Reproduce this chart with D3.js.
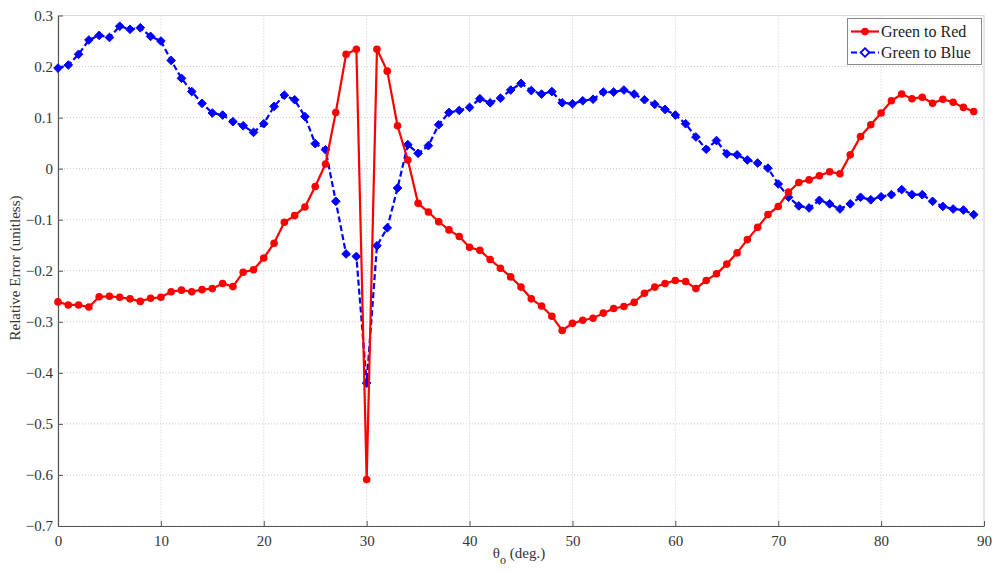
<!DOCTYPE html>
<html><head><meta charset="utf-8">
<script src="https://cdn.jsdelivr.net/npm/d3@7"></script>
<style>body{margin:0;background:#fff}svg{display:block}text{font-family:"Liberation Serif","Times New Roman",serif}</style>
</head><body>
<svg id="chart" width="996" height="573"></svg>
<script>
const angles = d3.range(0, 90);
const greenToRed = [-0.261,-0.267,-0.267,-0.271,-0.251,-0.250,-0.252,-0.255,-0.260,-0.254,
 -0.252,-0.241,-0.238,-0.241,-0.237,-0.235,-0.225,-0.231,-0.203,-0.198,
 -0.175,-0.146,-0.105,-0.092,-0.075,-0.035,0.009,0.110,0.224,0.234,
 -0.609,0.234,0.191,0.084,0.017,-0.068,-0.085,-0.104,-0.120,-0.133,
 -0.154,-0.160,-0.178,-0.195,-0.212,-0.232,-0.255,-0.269,-0.289,-0.317,
 -0.303,-0.297,-0.293,-0.283,-0.274,-0.270,-0.262,-0.244,-0.232,-0.225,
 -0.219,-0.221,-0.235,-0.219,-0.206,-0.187,-0.165,-0.139,-0.115,-0.090,
 -0.074,-0.046,-0.027,-0.022,-0.014,-0.006,-0.010,0.027,0.063,0.086,
 0.109,0.133,0.146,0.137,0.140,0.128,0.136,0.130,0.120,0.112];
const greenToBlue = [0.197,0.203,0.224,0.252,0.261,0.257,0.279,0.273,0.276,0.259,
 0.250,0.212,0.177,0.151,0.128,0.109,0.105,0.092,0.084,0.071,
 0.088,0.122,0.144,0.135,0.102,0.049,0.037,-0.064,-0.167,-0.172,
 -0.420,-0.151,-0.116,-0.038,0.047,0.030,0.045,0.086,0.110,0.114,
 0.120,0.137,0.129,0.138,0.154,0.167,0.153,0.146,0.151,0.129,
 0.127,0.133,0.136,0.150,0.150,0.154,0.146,0.135,0.126,0.116,
 0.105,0.088,0.062,0.038,0.055,0.029,0.027,0.017,0.011,0.001,
 -0.030,-0.056,-0.073,-0.077,-0.062,-0.069,-0.079,-0.069,-0.056,-0.061,
 -0.055,-0.051,-0.041,-0.051,-0.051,-0.064,-0.074,-0.079,-0.081,-0.090];
const xTicks = [0,10,20,30,40,50,60,70,80,90];
const yTicks = [0.3,0.2,0.1,0,-0.1,-0.2,-0.3,-0.4,-0.5,-0.6,-0.7];
const seriesNames = ["Green to Red","Green to Blue"];
const seriesColors = ["#ff0000","#0000ff"];

const svg = d3.select("#chart");
const L=58, R=984, T=15.5, B=526;
const x = d3.scaleLinear().domain([0,90]).range([L,R]);
const y = d3.scaleLinear().domain([-0.7,0.3]).range([B,T]);

// grid
const g = svg.append("g");
g.selectAll(".vg").data(xTicks).join("line")
  .attr("x1",d=>x(d)).attr("x2",d=>x(d)).attr("y1",T).attr("y2",B)
  .attr("stroke","#c8c8c8").attr("stroke-width",1).attr("stroke-dasharray","1,2");
g.selectAll(".hg").data(yTicks).join("line")
  .attr("x1",L).attr("x2",R).attr("y1",d=>y(d)).attr("y2",d=>y(d))
  .attr("stroke","#c8c8c8").attr("stroke-width",1).attr("stroke-dasharray","1,2");

// box top/right
svg.append("line").attr("x1",L).attr("x2",R).attr("y1",T).attr("y2",T).attr("stroke","#d8d8d8");
svg.append("line").attr("x1",R).attr("x2",R).attr("y1",T).attr("y2",B).attr("stroke","#d8d8d8");

// axes
const xAxis = d3.axisBottom(x).tickValues(xTicks).tickSizeInner(-5).tickSizeOuter(0).tickPadding(9);
const yAxis = d3.axisLeft(y).tickValues(yTicks).tickSizeInner(-5).tickSizeOuter(0).tickPadding(5)
  .tickFormat(d=> d===0 ? "0" : d3.format(".1f")(d));
const gx = svg.append("g").attr("transform",`translate(0,${B})`).call(xAxis);
const gy = svg.append("g").attr("transform",`translate(${L},0)`).call(yAxis);
[gx,gy].forEach(a=>{
  a.attr("font-family","Liberation Serif");
  a.select(".domain").attr("stroke","#555").attr("stroke-width",1.2);
  a.selectAll(".tick line").attr("stroke","#555");
  a.selectAll(".tick text").attr("font-size",15).attr("fill","#333").attr("font-family","Liberation Serif");
});

// titles
svg.append("text").attr("transform","translate(20,268) rotate(-90)").attr("text-anchor","middle")
  .attr("font-size",15).attr("fill","#333").text("Relative Error (unitless)");
const xt = svg.append("text").attr("x",519).attr("y",558).attr("text-anchor","middle")
  .attr("font-size",15).attr("fill","#333");
xt.append("tspan").text("θ");
xt.append("tspan").attr("dy",6).attr("font-size",12).text("o");
xt.append("tspan").attr("dy",-6).text(" (deg.)");

// lines
const line = d3.line().x((d,i)=>x(angles[i])).y(d=>y(d));
svg.append("path").datum(greenToBlue).attr("d",line).attr("fill","none")
  .attr("stroke",seriesColors[1]).attr("stroke-width",2.2).attr("stroke-dasharray","6,3");
svg.append("g").selectAll("path").data(greenToBlue).join("path")
  .attr("d",d3.symbol(d3.symbolDiamond2,48)())
  .attr("transform",(d,i)=>`translate(${x(angles[i])},${y(d)})`)
  .attr("fill",seriesColors[1]).attr("stroke",seriesColors[1]).attr("stroke-width",1);
svg.append("path").datum(greenToRed).attr("d",line).attr("fill","none")
  .attr("stroke",seriesColors[0]).attr("stroke-width",2.2);
svg.append("g").selectAll("circle").data(greenToRed).join("circle")
  .attr("cx",(d,i)=>x(angles[i])).attr("cy",d=>y(d)).attr("r",3.8)
  .attr("fill",seriesColors[0]);

// legend
const lg = svg.append("g");
lg.append("rect").attr("x",847.5).attr("y",18.5).attr("width",134).attr("height",46)
  .attr("fill","#fff").attr("stroke","#888").attr("stroke-width",1);
seriesNames.forEach((n,i)=>{
  const yy = 31.5 + i*21;
  lg.append("line").attr("x1",851).attr("x2",879).attr("y1",yy).attr("y2",yy)
    .attr("stroke",seriesColors[i]).attr("stroke-width",2.2)
    .attr("stroke-dasharray", i===1 ? "6,3" : null);
  if(i===0) lg.append("circle").attr("cx",865).attr("cy",yy).attr("r",3.8).attr("fill",seriesColors[0]);
  else lg.append("path").attr("d",d3.symbol(d3.symbolDiamond2,48)()).attr("transform",`translate(865,${yy})`)
    .attr("fill","#fff").attr("stroke",seriesColors[1]).attr("stroke-width",1.8);
  lg.append("text").attr("x",881).attr("y",yy+5).attr("font-size",16).attr("fill","#222").text(n);
});
</script>
</body></html>
